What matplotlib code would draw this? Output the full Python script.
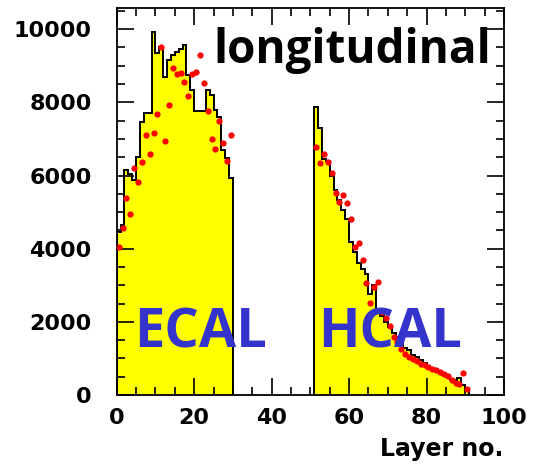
import matplotlib
matplotlib.use("Agg")
import matplotlib.pyplot as plt
import numpy as np

# ECAL: layers 0-29, HCAL: layers 51-90 (one bin per layer)
ecal_edges = np.arange(0, 31)
hcal_edges = np.arange(51, 92)

# histogram (yellow) heights
ecal_hist = [4470, 4650, 6150, 6050, 5880, 6500, 7470, 7700, 7700, 9930,
             9350, 9520, 8700, 9160, 9300, 9380, 9450, 9580, 8750, 8340,
             7770, 7770, 7770, 8340, 8200, 7790, 7600, 6700, 6480, 5930]
hcal_hist = [7870, 7290, 6450, 6400, 5980, 5600, 5330, 5050, 4800, 4190,
             3920, 3600, 3450, 3300, 2750, 3000, 2300, 2150, 2000, 1850,
             1700, 1600, 1450, 1300, 1220, 1100, 1050, 950, 870, 800,
             750, 720, 650, 550, 500, 400, 400, 460, 270, 140]

# red points (one per layer, at bin centres)
ecal_pts = [4060, 4560, 5380, 4950, 6200, 5820, 6360, 7110, 6580, 7160,
            7680, 9500, 6930, 7930, 8950, 8770, 8800, 8550, 8160, 8770,
            8840, 9300, 8520, 7770, 7000, 6730, 7500, 6880, 6400, 7100]
hcal_pts = [6770, 6340, 6590, 6380, 6060, 5530, 5290, 5470, 5260, 4800,
            4060, 4150, 3700, 3070, 2530, 2960, 3080, 2280, 2100, 1900,
            1600, 1450, 1250, 1120, 1030, 980, 940, 860, 810, 770,
            720, 680, 620, 570, 520, 420, 330, 300, 610, 160]

fig = plt.figure(figsize=(5.33, 4.67), dpi=100)
ax = fig.add_axes([0.219, 0.154, 0.7265, 0.829])

# 히스토그램 (노란 채움 + 검은 윤곽)
for edges, vals in [(ecal_edges, ecal_hist), (hcal_edges, hcal_hist)]:
    ax.stairs(vals, edges, baseline=0, fill=True, color="#ffff00", zorder=1)
    ax.stairs(vals, edges, baseline=0, color="black", linewidth=1.4, zorder=2)

# 빨간 점
ax.plot(ecal_edges[:-1] + 0.5, ecal_pts, "o", color="#ff0000", ms=4.5, mew=0, zorder=3)
ax.plot(hcal_edges[:-1] + 0.5, hcal_pts, "o", color="#ff0000", ms=4.5, mew=0, zorder=3)

ax.set_xlim(0, 100)
ax.set_ylim(0, 10580)
ax.set_xticks(np.arange(0, 101, 20))
ax.set_xticks(np.arange(0, 101, 5), minor=True)
ax.set_yticks(np.arange(0, 10001, 2000))
ax.set_yticks(np.arange(0, 10501, 500), minor=True)
ax.tick_params(which="both", direction="in", top=True, right=True, width=1.2)
ax.tick_params(which="major", length=12)
ax.tick_params(which="minor", length=6)
ax.tick_params(axis="y", pad=18)
ax.tick_params(axis="x", pad=9)
for lab in ax.get_xticklabels() + ax.get_yticklabels():
    lab.set_fontsize(16)
    lab.set_fontweight("bold")
for sp in ax.spines.values():
    sp.set_linewidth(1.3)

fig.text(503 / 533, 1 - 449 / 467, "Layer no.", ha="right", va="center",
         fontsize=17, fontweight="bold")

# 글자 라벨
ax.text(0.968, 0.89, "longitudinal", transform=ax.transAxes, ha="right", va="center",
        fontsize=33, fontweight="bold", family="Open Sans", color="black")
ax.text(0.045, 0.16, "ECAL", transform=ax.transAxes, ha="left", va="center",
        fontsize=39, fontweight="bold", family="Open Sans", color="#3434cc")
ax.text(0.52, 0.16, "HCAL", transform=ax.transAxes, ha="left", va="center",
        fontsize=39, fontweight="bold", family="Open Sans", color="#3434cc")

fig.savefig("out.png", dpi=100)
